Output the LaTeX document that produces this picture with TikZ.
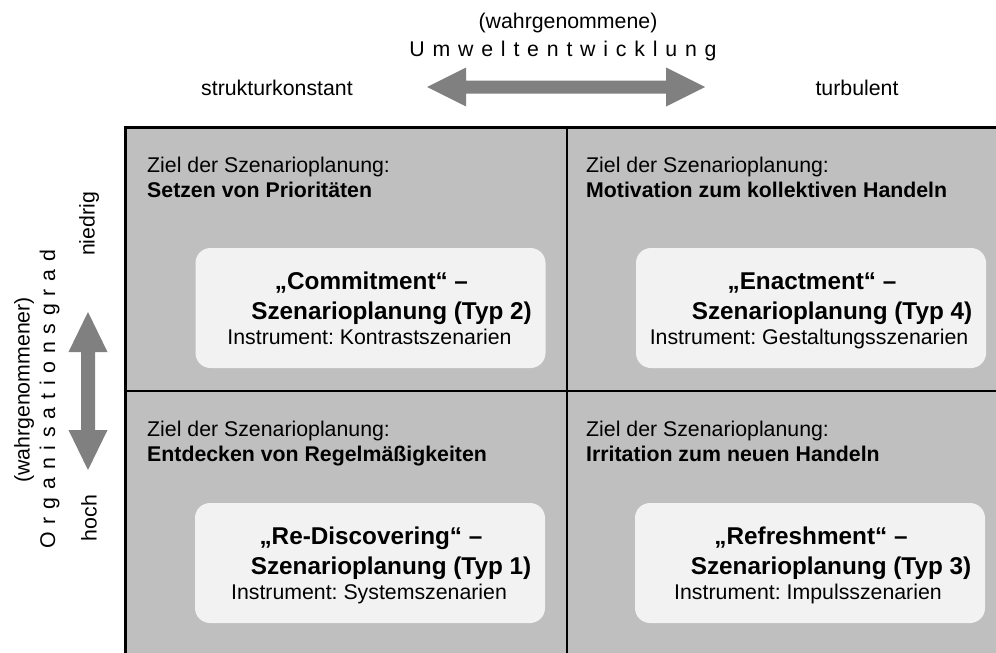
\documentclass[tikz,border=0pt]{standalone}
\usepackage{fontspec}
\setmainfont{Liberation Sans}
\frenchspacing
\makeatletter
% set a word with a fixed gap between its letters
\newcommand\spreadout[2]{\def\sp@sep{}\@tfor\sp@ch:=#2\do{\sp@sep\sp@ch\def\sp@sep{\hspace{#1}}}}
\makeatother
\definecolor{cellgray}{gray}{0.75}
\definecolor{boxwhite}{gray}{0.95}
\definecolor{arrowgray}{gray}{0.5}
\tikzset{
  plain/.style={inner sep=0pt, font=\fontsize{21.3}{25}\selectfont},
  strong/.style={inner sep=0pt, font=\fontsize{21.3}{25}\selectfont\bfseries},
  title/.style={inner sep=0pt, font=\fontsize{24.3}{30}\selectfont\bfseries},
  typebox/.style={fill=boxwhite, rounded corners=15pt, minimum width=350pt,
    minimum height=120pt, inner sep=0pt},
  gridline/.style={line width=2pt},
  frameline/.style={line width=3pt},
}
\begin{document}
\begin{tikzpicture}[x=1pt,y=-1pt]
\useasboundingbox (0,0) rectangle (996,653);

% axis captions on top
\node[plain] (wahrg) at (568,23) {(wahrgenommene)};
\node[plain, anchor=base] (umwelt) at (563,56) {\spreadout{7.8pt}{Umweltentwicklung}};
\node[plain] (konst) at (277,88) {strukturkonstant};
\node[plain] (turb) at (857,88) {turbulent};

% horizontal double arrow
\fill[arrowgray] (427,87) -- (466,67.5) -- (466,80.5) -- (666,80.5) -- (666,67.5)
  -- (705,87) -- (666,106.5) -- (666,93.5) -- (466,93.5) -- (466,106.5) -- cycle;

% axis captions on the left
\node[plain, rotate=90] (wahrg2) at (24,390) {(wahrgenommener)};
\node[plain, rotate=90, anchor=base] (orga) at (55,399) {\spreadout{7.8pt}{Organisationsgrad}};
\node[plain, rotate=90] (niedrig) at (89,224) {niedrig};
\node[plain, rotate=90] (hoch) at (89,518) {hoch};

% vertical double arrow
\fill[arrowgray] (88,312) -- (107.5,352) -- (95,352) -- (95,430) -- (107.5,430)
  -- (88,470) -- (68.5,430) -- (81,430) -- (81,352) -- (68.5,352) -- cycle;

% the four cells
\fill[cellgray] (125,127) rectangle (1000,660);
\draw[gridline] (567,127) -- (567,660);
\draw[gridline] (125,391) -- (1000,391);
\draw[frameline] (123.5,127) -- (1000,127);
\draw[frameline] (125,125.5) -- (125,660);

% aims of scenario planning
\node[plain, anchor=base west] (aimA) at (147,172) {Ziel der Szenarioplanung:};
\node[strong, anchor=base west] (aimAb) at (147,197) {Setzen von Prioritäten};
\node[plain, anchor=base west] (aimB) at (586,172) {Ziel der Szenarioplanung:};
\node[strong, anchor=base west] (aimBb) at (586,197) {Motivation zum kollektiven Handeln};
\node[plain, anchor=base west] (aimC) at (147,436) {Ziel der Szenarioplanung:};
\node[strong, anchor=base west] (aimCb) at (147,461) {Entdecken von Regelmäßigkeiten};
\node[plain, anchor=base west] (aimD) at (586,436) {Ziel der Szenarioplanung:};
\node[strong, anchor=base west] (aimDb) at (586,461) {Irritation zum neuen Handeln};

% scenario type boxes
\node[typebox] (typ2) at (370.5,308) {};
\node[typebox] (typ4) at (811,308) {};
\node[typebox] (typ1) at (370,563) {};
\node[typebox] (typ3) at (810,563) {};

\node[title, anchor=base] (t2a) at ([xshift=1pt, yshift=-42pt]typ2.north) {„Commitment“ –};
\node[title, anchor=base] (t2b) at ([xshift=21pt, yshift=-72pt]typ2.north) {Szenarioplanung (Typ 2)};
\node[plain, anchor=base] (t2c) at ([xshift=-1pt, yshift=-97pt]typ2.north) {Instrument: Kontrastszenarien};

\node[title, anchor=base] (t4a) at ([xshift=1pt, yshift=-42pt]typ4.north) {„Enactment“ –};
\node[title, anchor=base] (t4b) at ([xshift=21pt, yshift=-72pt]typ4.north) {Szenarioplanung (Typ 4)};
\node[plain, anchor=base] (t4c) at ([xshift=-2pt, yshift=-97pt]typ4.north) {Instrument: Gestaltungsszenarien};

\node[title, anchor=base] (t1a) at ([xshift=1pt, yshift=-42pt]typ1.north) {„Re-Discovering“ –};
\node[title, anchor=base] (t1b) at ([xshift=21pt, yshift=-72pt]typ1.north) {Szenarioplanung (Typ 1)};
\node[plain, anchor=base] (t1c) at ([xshift=-1pt, yshift=-97pt]typ1.north) {Instrument: Systemszenarien};

\node[title, anchor=base] (t3a) at ([xshift=1pt, yshift=-42pt]typ3.north) {„Refreshment“ –};
\node[title, anchor=base] (t3b) at ([xshift=21pt, yshift=-72pt]typ3.north) {Szenarioplanung (Typ 3)};
\node[plain, anchor=base] (t3c) at ([xshift=-2pt, yshift=-97pt]typ3.north) {Instrument: Impulsszenarien};
\end{tikzpicture}
\end{document}
